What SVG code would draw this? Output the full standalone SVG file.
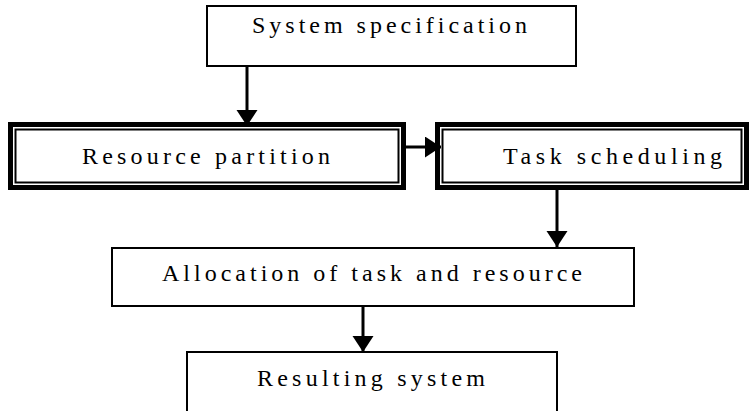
<svg xmlns="http://www.w3.org/2000/svg" width="749" height="411" viewBox="0 0 749 411">
<defs>
<marker id="ah" markerUnits="userSpaceOnUse" markerWidth="18" markerHeight="22" refX="16" refY="10.5" orient="auto">
<path d="M0,0 L16,10.5 L0,21 Z" fill="#000"/>
</marker>
<style>
.box{fill:#fff;stroke:#000;stroke-width:2}
.outer{fill:#fff;stroke:#000;stroke-width:5}
.inner{fill:none;stroke:#000;stroke-width:2}
.lbl{font-family:"Liberation Serif","DejaVu Serif",serif;font-size:24px;fill:#000}
.conn{stroke:#000;stroke-width:3;fill:none}
</style>
</defs>
<rect width="749" height="411" fill="#fff"/>
<g id="system-specification">
<rect class="box" x="207" y="6" width="369" height="60"/>
<text class="lbl" x="252" y="33" textLength="275" lengthAdjust="spacing">System specification</text>
</g>
<g id="resource-partition">
<rect class="outer" x="10.5" y="124.5" width="393" height="63"/>
<rect class="inner" x="15.5" y="129.5" width="383" height="53"/>
<text class="lbl" x="82" y="164" textLength="248" lengthAdjust="spacing">Resource partition</text>
</g>
<g id="task-scheduling">
<rect class="outer" x="437.5" y="124.5" width="309" height="63"/>
<rect class="inner" x="442.5" y="129.5" width="299" height="53"/>
<text class="lbl" x="503" y="164" textLength="219" lengthAdjust="spacing">Task scheduling</text>
</g>
<g id="allocation">
<rect class="box" x="112" y="248" width="522" height="58"/>
<text class="lbl" x="162" y="281" textLength="420" lengthAdjust="spacing">Allocation of task and resource</text>
</g>
<g id="resulting-system">
<rect class="box" x="187" y="352" width="370" height="70"/>
<text class="lbl" x="257" y="386" textLength="228" lengthAdjust="spacing">Resulting system</text>
</g>
<g id="connectors">
<line class="conn" x1="247" y1="67" x2="247" y2="126" marker-end="url(#ah)"/>
<line class="conn" x1="406" y1="147" x2="441" y2="147" marker-end="url(#ah)"/>
<line class="conn" x1="557" y1="188" x2="557" y2="247" marker-end="url(#ah)"/>
<line class="conn" x1="363" y1="307" x2="363" y2="352" marker-end="url(#ah)"/>
</g>
</svg>
